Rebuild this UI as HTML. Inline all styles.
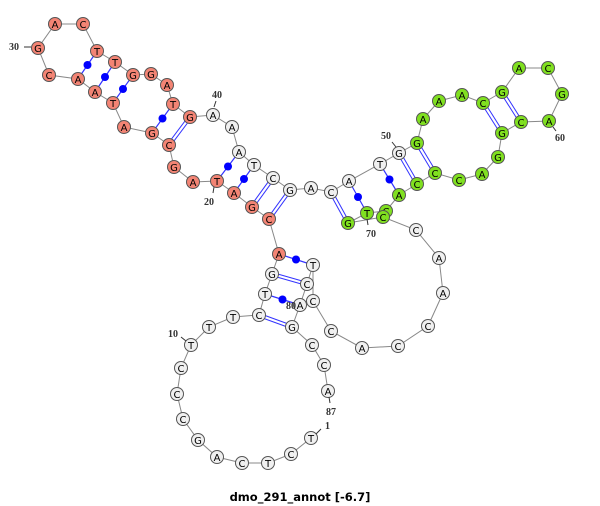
<!DOCTYPE html>
<html><head><meta charset="utf-8"><style>
html,body{margin:0;padding:0;background:#fff;width:600px;height:506px;overflow:hidden}
svg{display:block}
</style></head><body>
<svg id="s" width="600" height="506" viewBox="0 0 600 506" xmlns="http://www.w3.org/2000/svg">
<g id="bb"></g><g id="pr"></g><g id="nd" style="font-family:'DejaVu Sans','Liberation Sans',sans-serif"></g>
<g style="font-family:'Liberation Serif',serif;font-weight:bold;font-size:10px" fill="#333">
<text x="9" y="50">30</text><line x1="24" y1="47" x2="31" y2="47" stroke="#333"/>
<text x="212" y="98">40</text><line x1="216" y1="101" x2="214" y2="107" stroke="#333"/>
<text x="204" y="205">20</text><line x1="214" y1="187" x2="213" y2="193" stroke="#333"/>
<text x="381" y="139">50</text><line x1="392" y1="142" x2="396" y2="147" stroke="#333"/>
<text x="555" y="141">60</text><line x1="553" y1="127" x2="556" y2="131" stroke="#333"/>
<text x="366" y="237">70</text><line x1="367" y1="219" x2="368" y2="225" stroke="#333"/>
<text x="168" y="337">10</text><line x1="181" y1="337" x2="186" y2="341" stroke="#333"/>
<text x="286" y="309">80</text>
<text x="326" y="415">87</text><line x1="329" y1="397" x2="330" y2="403" stroke="#333"/>
<text x="325" y="429">1</text><line x1="316" y1="434" x2="321" y2="429" stroke="#333"/>
</g>
<text x="300" y="501" text-anchor="middle" style="font-family:'DejaVu Sans','Liberation Sans',sans-serif;font-weight:bold;font-size:11.5px" fill="#000">dmo_291_annot [-6.7]</text>
</svg>
<script>
var N=[
[311,438,'T'],[291,454,'C'],[268,463,'T'],[242,463,'C'],[217,457,'A'],[198,440,'G'],[183,419,'C'],[177,394,'C'],[181,368,'C'],[191,345,'T'],
[209,327,'T'],[233,317,'T'],[259,315,'C'],[265,294,'T'],[272,274,'G'],[279,254,'A'],[269,219,'C'],[252,207,'G'],[234,193,'A'],[217,181,'T'],
[193,182,'A'],[174,167,'G'],[169,145,'C'],[152,133,'G'],[124,127,'A'],[113,103,'T'],[95,92,'A'],[78,79,'A'],[49,75,'C'],[38,48,'G'],
[55,24,'A'],[83,24,'C'],[97,51,'T'],[115,62,'T'],[133,75,'G'],[151,74,'G'],[167,85,'A'],[173,104,'T'],[190,117,'G'],[213,115,'A'],
[232,127,'A'],[239,152,'A'],[254,165,'T'],[273,178,'C'],[290,190,'G'],[311,188,'A'],[331,192,'C'],[349,181,'A'],[380,164,'T'],[399,153,'G'],
[417,143,'G'],[423,119,'A'],[439,101,'A'],[462,95,'A'],[483,103,'C'],[502,92,'G'],[519,68,'A'],[548,68,'C'],[562,94,'G'],[549,121,'A'],
[521,122,'C'],[502,133,'G'],[498,157,'G'],[482,174,'A'],[459,180,'C'],[435,173,'C'],[417,184,'C'],[399,195,'A'],[386,211,'C'],[367,213,'T'],
[348,223,'G'],[383,217,'C'],[416,230,'C'],[439,258,'A'],[443,293,'A'],[428,326,'C'],[398,346,'C'],[362,348,'A'],[331,331,'C'],[313,301,'C'],
[313,265,'T'],[307,284,'C'],[300,305,'A'],[292,327,'G'],[312,345,'C'],[324,365,'C'],[328,391,'A']];
var P=[[16,81,0],[15,82,1],[14,83,0],[13,84,1],[17,45,1],[18,44,1],[19,43,0],[20,42,0],[23,39,1],[24,38,0],[26,35,0],[27,34,0],[28,33,0],
[47,71,1],[48,70,0],[49,68,0],[50,67,1],[51,66,1],[55,62,1],[56,61,1]];
var ns="http://www.w3.org/2000/svg";
function el(t,a,p){var e=document.createElementNS(ns,t);for(var k in a)e.setAttribute(k,a[k]);document.getElementById(p).appendChild(e);return e;}
var pts=N.map(function(n){return n[0]+','+n[1]}).join(' ');
el('polyline',{points:pts,fill:'none',stroke:'#888','stroke-width':1},'bb');
P.forEach(function(p){var a=N[p[0]-1],b=N[p[1]-1];
 if(p[2]){var dx=b[0]-a[0],dy=b[1]-a[1],l=Math.hypot(dx,dy),ox=-dy/l*1.6,oy=dx/l*1.6;
  [1,-1].forEach(function(s){el('line',{x1:a[0]+s*ox,y1:a[1]+s*oy,x2:b[0]+s*ox,y2:b[1]+s*oy,stroke:'#3333ff','stroke-width':1},'pr');});}
 else{el('line',{x1:a[0],y1:a[1],x2:b[0],y2:b[1],stroke:'#3333ff','stroke-width':1.2},'pr');
  el('circle',{cx:(a[0]+b[0])/2,cy:(a[1]+b[1])/2,r:4,fill:'#0000ff'},'pr');}});
N.forEach(function(n,i){var k=i+1,f='#f0f0f0';
 if(k>=16&&k<=39)f='#f38474';if(k>=51&&k<=72)f='#80e020';
 el('circle',{cx:n[0],cy:n[1],r:6.5,fill:f,stroke:'#555','stroke-width':1},'nd');
 var t=el('text',{x:n[0],y:n[1]+3.8,'text-anchor':'middle','font-size':10,fill:'#000'},'nd');t.textContent=n[2];});
</script>
</body></html>
